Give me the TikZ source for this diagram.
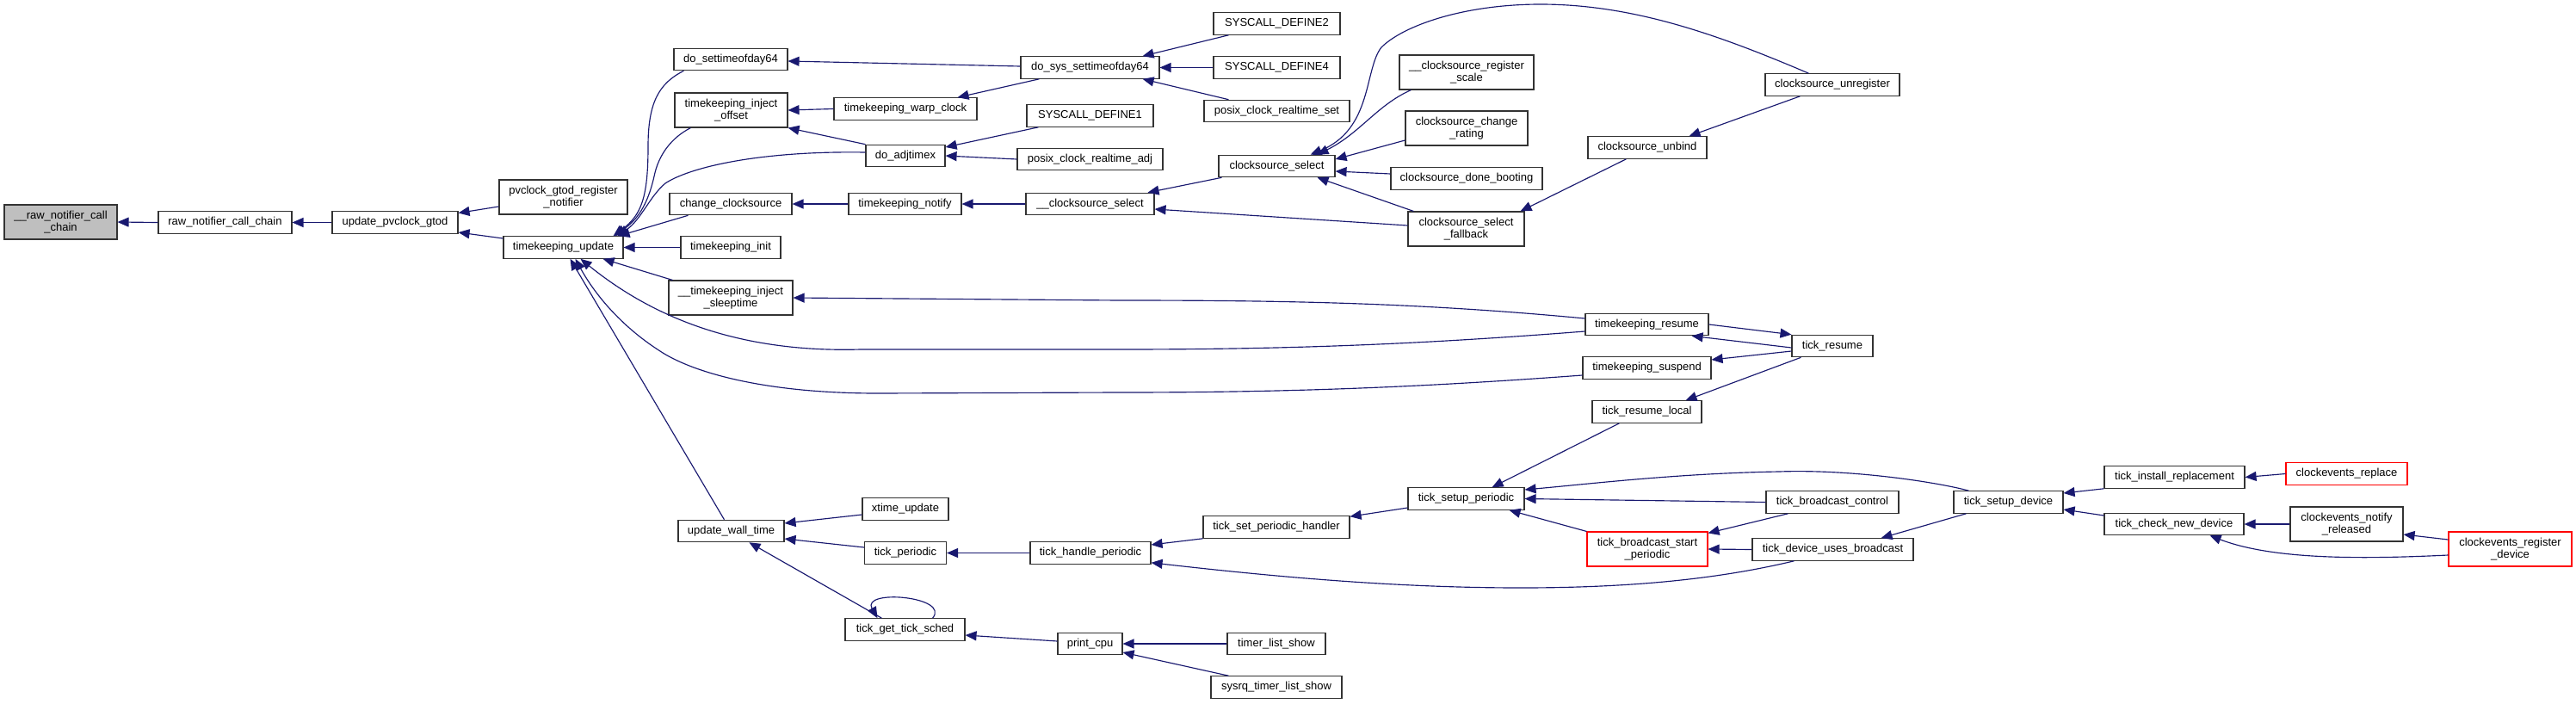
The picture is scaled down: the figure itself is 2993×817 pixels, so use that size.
\documentclass[tikz,border=0pt]{standalone}
\usepackage{fontspec}
\setmainfont{Liberation Sans}
\usetikzlibrary{arrows.meta}
\definecolor{edgeblue}{HTML}{191970}
\definecolor{hlgrey}{HTML}{BFBFBF}
\tikzset{
  fnode/.style={draw=black!80, fill=white, line width=1.1pt, inner sep=0pt, align=center,
    font=\fontsize{13}{14.5}\selectfont, minimum height=25.5pt},
  two/.style={minimum height=40pt},
  hl/.style={fill=hlgrey},
  redn/.style={draw=red},
  edge/.style={draw=edgeblue, line width=1.15pt, -{Triangle[length=13pt,width=11pt,fill=edgeblue]}},
}
\begin{document}
\begin{tikzpicture}[x=1pt,y=-1pt]
\fill[white] (0,0) rectangle (2993,817);
\useasboundingbox (0,0) rectangle (2993,817);

% nodes
\node[fnode,two,hl,minimum width=131pt] (rawcc) at (70.5,258) {\_\_raw\_notifier\_call\\\_chain};
\node[fnode,minimum width=155pt] (rnc) at (261.5,258.5) {raw\_notifier\_call\_chain};
\node[fnode,minimum width=146pt] (upg) at (459,258.5) {update\_pvclock\_gtod};
\node[fnode,two,minimum width=149pt] (pgrn) at (654.5,229) {pvclock\_gtod\_register\\\_notifier};
\node[fnode,minimum width=139pt] (tku) at (654.5,287.5) {timekeeping\_update};
\node[fnode,minimum width=132pt] (dstod) at (849,69) {do\_settimeofday64};
\node[fnode,two,minimum width=131pt] (tkio) at (849.5,128) {timekeeping\_inject\\\_offset};
\node[fnode,minimum width=142pt] (chcs) at (849,237) {change\_clocksource};
\node[fnode,minimum width=116pt] (tkinit) at (849,287.5) {timekeeping\_init};
\node[fnode,two,minimum width=144pt] (tkis) at (849,346) {\_\_timekeeping\_inject\\\_sleeptime};
\node[fnode,minimum width=123pt] (uwt) at (849.5,617) {update\_wall\_time};
\node[fnode,minimum width=166pt] (tkwc) at (1052,126.5) {timekeeping\_warp\_clock};
\node[fnode,minimum width=92pt] (adjt) at (1052,181) {do\_adjtimex};
\node[fnode,minimum width=131pt] (tkn) at (1051.5,237) {timekeeping\_notify};
\node[fnode,minimum width=100pt] (xtu) at (1052,591.5) {xtime\_update};
\node[fnode,minimum width=95pt] (tper) at (1052,642.5) {tick\_periodic};
\node[fnode,minimum width=139pt] (tgts) at (1051.5,731.5) {tick\_get\_tick\_sched};
\node[fnode,minimum width=161pt] (dsys) at (1266.5,78.5) {do\_sys\_settimeofday64};
\node[fnode,minimum width=147pt] (sd1) at (1266.5,134.5) {SYSCALL\_DEFINE1};
\node[fnode,minimum width=169pt] (pcra) at (1266.5,185) {posix\_clock\_realtime\_adj};
\node[fnode,minimum width=149pt] (ucss) at (1266.5,237) {\_\_clocksource\_select};
\node[fnode,minimum width=140pt] (thp) at (1267,642.5) {tick\_handle\_periodic};
\node[fnode,minimum width=75pt] (pcpu) at (1266.5,748) {print\_cpu};
\node[fnode,minimum width=147pt] (sd2) at (1483.5,27.5) {SYSCALL\_DEFINE2};
\node[fnode,minimum width=147pt] (sd4) at (1483.5,78.5) {SYSCALL\_DEFINE4};
\node[fnode,minimum width=169pt] (pcrs) at (1483.5,129) {posix\_clock\_realtime\_set};
\node[fnode,minimum width=135pt] (css) at (1483.5,193) {clocksource\_select};
\node[fnode,minimum width=170pt] (tsph) at (1483,612.5) {tick\_set\_periodic\_handler};
\node[fnode,minimum width=114pt] (tls) at (1483,748) {timer\_list\_show};
\node[fnode,minimum width=152pt] (stls) at (1483,798.5) {sysrq\_timer\_list\_show};
\node[fnode,two,minimum width=156pt] (csrs) at (1704,84) {\_\_clocksource\_register\\\_scale};
\node[fnode,two,minimum width=142pt] (cscr) at (1704,149) {clocksource\_change\\\_rating};
\node[fnode,minimum width=176pt] (csdb) at (1704,207.5) {clocksource\_done\_booting};
\node[fnode,two,minimum width=135pt] (cssf) at (1703.5,266) {clocksource\_select\\\_fallback};
\node[fnode,minimum width=135pt] (tsp) at (1703.5,579.5) {tick\_setup\_periodic};
\node[fnode,minimum width=138pt] (csub) at (1914,171.5) {clocksource\_unbind};
\node[fnode,minimum width=143pt] (tkr) at (1913.5,377) {timekeeping\_resume};
\node[fnode,minimum width=149pt] (tks) at (1913.5,427.5) {timekeeping\_suspend};
\node[fnode,minimum width=127pt] (trl) at (1913.5,478.5) {tick\_resume\_local};
\node[fnode,two,redn,minimum width=140pt] (tbsp) at (1914,638) {tick\_broadcast\_start\\\_periodic};
\node[fnode,minimum width=156pt] (csur) at (2129,98.5) {clocksource\_unregister};
\node[fnode,minimum width=94pt] (tres) at (2129,402) {tick\_resume};
\node[fnode,minimum width=154pt] (tbc) at (2129,583.5) {tick\_broadcast\_control};
\node[fnode,minimum width=187pt] (tdub) at (2129.5,638.5) {tick\_device\_uses\_broadcast};
\node[fnode,minimum width=127pt] (tsd) at (2333.5,583.5) {tick\_setup\_device};
\node[fnode,minimum width=163pt] (tir) at (2526.5,554.5) {tick\_install\_replacement};
\node[fnode,minimum width=162pt] (tcnd) at (2526,609) {tick\_check\_new\_device};
\node[fnode,redn,minimum width=141pt] (cer) at (2726.5,550.5) {clockevents\_replace};
\node[fnode,two,minimum width=131pt] (cenr) at (2726.5,609) {clockevents\_notify\\\_released};
\node[fnode,two,redn,minimum width=143pt] (cerd) at (2916.5,638) {clockevents\_register\\\_device};

% edges (caller -> callee, arrow at callee)
\draw[edge] (rnc.west) -- (rawcc.east);
\draw[edge] (upg.west) -- (rnc.east);
\draw[edge] ([yshift=-11pt]pgrn.west) -- ([yshift=11pt]upg.east);
\draw[edge] ([yshift=10.5pt]tku.west) -- ([yshift=-11.5pt]upg.east);

\draw[edge] ([xshift=12pt]dstod.south west) .. controls (765,97) and (753,120) .. (753,170)
   .. controls (753,230) and (745,250) .. ([xshift=-12pt]tku.north east);
\draw[edge] ([xshift=19pt]tkio.south west) .. controls (780,160) and (765,180) .. (760,205)
   .. controls (752,240) and (740,255) .. ([xshift=-10pt]tku.north east);
\draw[edge] ([yshift=4pt]adjt.west) .. controls (880,175) and (800,195) .. (773,213)
   .. controls (755,228) and (745,255) .. ([xshift=-7pt]tku.north east);
\draw[edge] ([xshift=22pt]chcs.south west) -- ([xshift=-6pt]tku.north east);
\draw[edge] (tkinit.west) -- (tku.east);
\draw[edge] ([xshift=5pt]tkis.north west) -- ([xshift=-24pt]tku.south east);
\draw[edge] ([yshift=-8pt]tkr.west) .. controls (1650,400) and (1500,406) .. (1300,406)
   -- (1000,406) .. controls (860,410) and (760,370) .. ([xshift=20pt]tku.south);
\draw[edge] ([yshift=-8.5pt]tks.west) .. controls (1650,450) and (1500,456) .. (1300,456)
   -- (1020,457) .. controls (880,457) and (800,430) .. (767,408)
   .. controls (720,378) and (690,340) .. ([xshift=14pt]tku.south);
\draw[edge] ([xshift=54pt]uwt.north west) -- ([xshift=8pt]tku.south);

\draw[edge] ([yshift=1.5pt]dsys.west) -- ([yshift=-2pt]dstod.east);
\draw[edge] (tkwc.west) -- (tkio.east);
\draw[edge] (adjt.north west) -- (tkio.south east);
\draw[edge] ([xshift=22pt]dsys.south west) -- ([xshift=-23pt]tkwc.north east);
\draw[edge] ([xshift=18pt]sd2.south west) -- ([xshift=-20pt]dsys.north east);
\draw[edge] (sd4.west) -- (dsys.east);
\draw[edge] ([xshift=29pt]pcrs.north west) -- ([xshift=-20pt]dsys.south east);
\draw[edge] ([xshift=14pt]sd1.south west) -- ([yshift=10pt]adjt.east);
\draw[edge] (pcra.west) -- (adjt.east);
\draw[edge] (tkn.west) -- (chcs.east);
\draw[edge] (ucss.west) -- (tkn.east);
\draw[edge] ([xshift=4pt]css.south west) -- ([xshift=-8pt]ucss.north east);
\draw[edge] ([yshift=4pt]cssf.west) -- ([yshift=-6pt]ucss.east);

\draw[edge] ([xshift=51pt]csur.north west) .. controls (2000,42) and (1900,5) .. (1790,5)
   .. controls (1700,5) and (1630,30) .. (1605,55)
   .. controls (1585,80) and (1595,150) .. ([xshift=-29pt]css.north east);
\draw[edge] ([xshift=14pt]csrs.south west) .. controls (1600,122) and (1580,155) .. ([xshift=-21pt]css.north east);
\draw[edge] ([yshift=-14pt]cscr.west) -- ([yshift=8pt]css.east);
\draw[edge] ([yshift=5.5pt]csdb.west) -- ([yshift=-6pt]css.east);
\draw[edge] ([xshift=7pt]cssf.north west) -- ([xshift=-21pt]css.south east);
\draw[edge] ([xshift=45pt]csub.south west) -- ([xshift=-5pt]cssf.north east);
\draw[edge] ([xshift=41pt]csur.south west) -- ([xshift=-21pt]csub.north east);

\draw[edge] ([yshift=7pt]tkr.west) .. controls (1650,352) and (1500,349) .. (1300,349) -- (tkis.east);
\draw[edge] (tkr.east) -- (tres.north west);
\draw[edge] ([yshift=-2pt]tres.west) -- ([xshift=-20pt]tkr.south east);
\draw[edge] ([yshift=-6pt]tres.west) -- ([yshift=9.5pt]tks.east);
\draw[edge] ([xshift=11pt]tres.south west) -- ([xshift=-19pt]trl.north east);
\draw[edge] ([xshift=32pt]trl.south west) -- ([xshift=-38pt]tsp.north east);

\draw[edge] ([xshift=18pt]tsd.north west) .. controls (2250,560) and (2150,545) .. (2067,548)
   .. controls (1950,550) and (1850,562) .. ([yshift=10.5pt]tsp.east);
\draw[edge] (tbc.west) -- (tsp.east);
\draw[edge] (tbsp.north west) -- ([xshift=-18pt]tsp.south east);
\draw[edge] ([xshift=26pt]tbc.south west) -- ([yshift=-2pt]tbsp.north east);
\draw[edge] (tdub.west) -- (tbsp.east);
\draw[edge] ([xshift=49pt]tdub.south west) .. controls (2000,672) and (1900,683) .. (1767,683)
   .. controls (1620,683) and (1480,670) .. ([yshift=2pt]thp.south east);
\draw[edge] ([xshift=15pt]tsd.south west) -- ([xshift=-38pt]tdub.north east);
\draw[edge] (tir.south west) -- ([yshift=10.5pt]tsd.east);
\draw[edge] ([yshift=10pt]tcnd.west) -- ([yshift=-8.5pt]tsd.east);
\draw[edge] (cer.west) -- (tir.east);
\draw[edge] (cenr.west) -- (tcnd.east);
\draw[edge] ([yshift=-7pt]cerd.west) .. controls (2740,650) and (2640,650) .. ([xshift=-40pt]tcnd.south east);
\draw[edge] ([yshift=11pt]cerd.west) -- ([yshift=-12pt]cenr.east);

\draw[edge] (tsph.south west) -- ([yshift=9.5pt]thp.east);
\draw[edge] ([yshift=-10.5pt]tsp.west) -- ([yshift=-1pt]tsph.north east);
\draw[edge] (thp.west) -- (tper.east);
\draw[edge] ([yshift=-6.5pt]xtu.west) -- ([yshift=9pt]uwt.east);
\draw[edge] ([yshift=6.5pt]tper.west) -- ([yshift=-9pt]uwt.east);
\draw[edge] ([xshift=43pt]tgts.north west) -- ([xshift=83pt]uwt.south west);
\draw[edge] ([xshift=-38pt]tgts.north east) .. controls (1105,693) and (1000,684) .. ([xshift=38pt]tgts.north west);
\draw[edge] ([yshift=3pt]pcpu.west) -- ([yshift=-6.5pt]tgts.east);
\draw[edge] (tls.west) -- (pcpu.east);
\draw[edge] ([xshift=21pt]stls.north west) -- ([yshift=-10pt]pcpu.east);
\end{tikzpicture}
\end{document}
